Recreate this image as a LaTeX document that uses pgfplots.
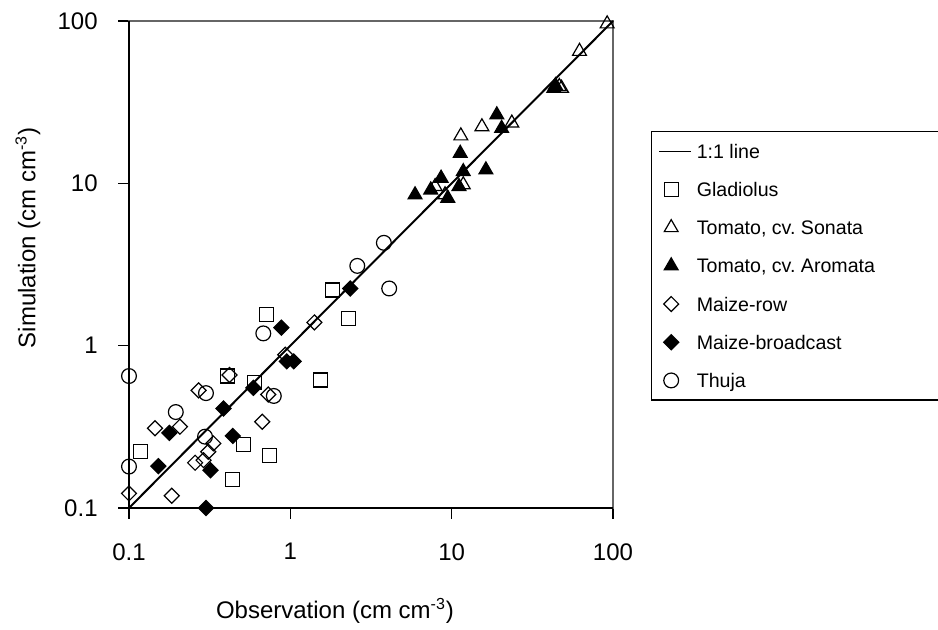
\documentclass[border=0pt]{standalone}
\usepackage{fontspec}
\setmainfont{Liberation Sans}
\frenchspacing
\usepackage{pgfplots}
\pgfplotsset{compat=1.18}
\begin{document}
\begin{tikzpicture}
\useasboundingbox (0,0) rectangle (469pt,315pt);
\begin{axis}[
  at={(64.5pt,61pt)}, anchor=south west,
  scale only axis, width=242pt, height=243.5pt,
  xmode=log, ymode=log,
  xmin=0.1, xmax=100, ymin=0.1, ymax=100,
  xtick={0.1,1,10,100}, xticklabels={0.1,1,10,100},
  ytick={0.1,1,10,100}, yticklabels={0.1,1,10,100},
  minor tick length=0pt, minor tick style={draw=none},
  tick align=outside, major tick length=5.5pt,
  xtick pos=left, ytick pos=left,
  major tick style={black, line width=0.75pt},
  axis line style={draw=black!60, line width=1pt},
  /pgf/number format/assume math mode=true,
  tick label style={font=\fontsize{12}{14}\selectfont, inner sep=0pt},
  yticklabel shift=10pt,
  xticklabel shift=12pt,
  label style={font=\fontsize{12}{14}\selectfont},
  xlabel={Observation (cm cm\textsuperscript{-3})},
  ylabel={Simulation (cm cm\textsuperscript{-3})},
  xlabel style={at={(0.4256,-0.2115)}, anchor=center},
  ylabel style={at={(-0.2087,0.5544)}, anchor=center, rotate=0},
  clip=false,
  legend style={at={(1.0785,0.774)}, anchor=north west,
    draw=black, line width=0.6pt, fill=white,
    font=\fontsize{9.8}{12}\selectfont,
    inner xsep=3.5pt, inner ysep=3.3pt,
    row sep=6.1pt, column sep=2.5pt,
    nodes={inner sep=0pt, text height=10pt, text depth=3pt},
    cells={anchor=west}},
  legend image code/.code={\path (0pt,0pt) (16pt,0pt); \draw[#1] plot coordinates {(6pt,0pt)};},
]
\addplot[black, line width=1pt, no marks,
  legend image code/.code={\draw[black, line width=0.6pt] (0pt,0pt) -- (16pt,0pt);}]
  coordinates {(0.1,0.1) (100,100)};
\addlegendentry{\makebox[125pt][l]{1:1 line}}

% Gladiolus
\addplot[only marks, mark=square, mark size=3.5pt, mark options={black, line width=0.6pt}]
  table {
x y
0.71 1.55
0.41 0.65
0.60 0.59
0.51 0.245
0.74 0.21
0.118 0.224
0.44 0.15
1.83 2.2
2.3 1.47
1.53 0.615
};
\addlegendentry{Gladiolus}

% Tomato Sonata
\addplot[only marks, mark=triangle, mark size=4pt, mark options={black, line width=0.6pt}]
  table {
x y
92 96
62 65
46.5 39.5
48 38.5
15.4 22.3
23.6 23.5
11.4 19.6
11.8 9.8
7.9 9.55
9.1 8.5
};
\addlegendentry{Tomato, cv. Sonata}

% Tomato Aromata
\addplot[only marks, mark=triangle*, mark size=4pt, mark options={black, fill=black, line width=0.6pt}]
  table {
x y
43 38.5
44 40
19.05 26.4
20.4 21.8
11.3 15.3
11.8 11.8
16.3 12.1
8.6 10.75
11.1 9.55
5.93 8.49
7.42 9.1
9.46 8.1
};
\addlegendentry{Tomato, cv. Aromata}

% Maize-row
\addplot[only marks, mark=square, mark size=2.65pt, mark options={black, line width=0.6pt, rotate=45}]
  table {
x y
0.93 0.88
0.42 0.66
0.27 0.53
0.73 0.50
0.145 0.31
0.207 0.317
0.67 0.34
0.333 0.25
0.31 0.222
0.257 0.19
0.29 0.197
0.1 0.123
0.184 0.119
1.41 1.39
};
\addlegendentry{Maize-row}

% Maize-broadcast
\addplot[only marks, mark=square*, mark size=2.65pt, mark options={black, fill=black, line width=0.6pt, rotate=45}]
  table {
x y
0.88 1.29
0.95 0.80
1.05 0.80
0.59 0.55
0.385 0.41
0.178 0.29
0.44 0.278
0.152 0.181
0.32 0.171
0.30 0.10
2.35 2.25
};
\addlegendentry{Maize-broadcast}

% Thuja
\addplot[only marks, mark=o, mark size=3.7pt, mark options={black, line width=0.6pt}]
  table {
x y
0.68 1.19
0.1 0.65
0.30 0.51
0.79 0.49
0.195 0.39
0.296 0.275
0.1 0.18
3.8 4.3
2.6 3.1
4.1 2.25
};
\addlegendentry{Thuja}

\draw[black, line width=1pt] (rel axis cs:0,1) -- (rel axis cs:0,0) -- (rel axis cs:1,0);
\end{axis}
\end{tikzpicture}
\end{document}
